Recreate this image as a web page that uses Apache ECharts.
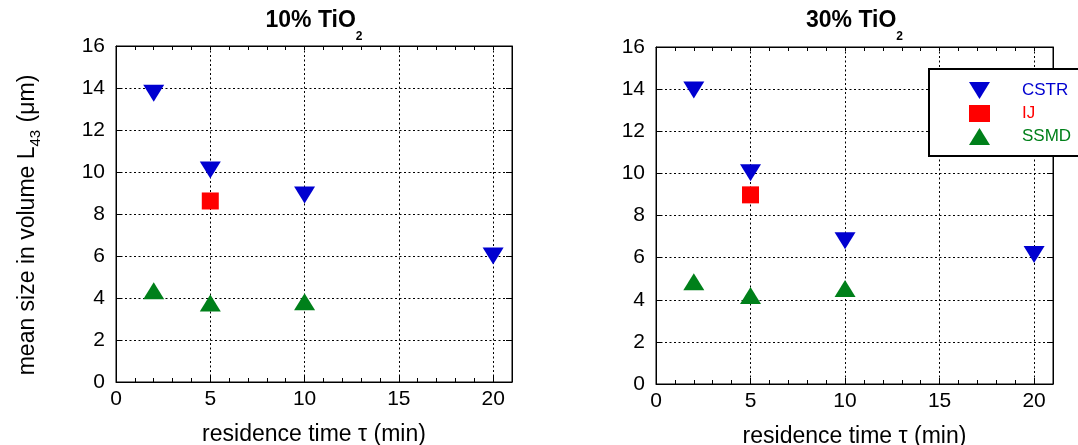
<!DOCTYPE html>
<html>
<head>
<meta charset="utf-8">
<script src="https://cdn.jsdelivr.net/npm/echarts@6/dist/echarts.min.js"></script>
<style>
html, body { margin: 0; padding: 0; background: #fff; }
#main { width: 1078px; height: 445px; }
</style>
</head>
<body>
<div id="main"></div>
<script>
// residence time tau (min)
var cstrTime = [2, 5, 10, 20];
var ijTime = [5];
var ssmdTime = [2, 5, 10];

// 10% TiO2, mean size L43 (um)
var cstr10 = [13.75, 10.1, 8.9, 6.0];
var ij10 = [8.62];
var ssmd10 = [4.35, 3.76, 3.82];

// 30% TiO2
var cstr30 = [13.96, 10.03, 6.8, 6.15];
var ij30 = [8.98];
var ssmd30 = [4.85, 4.2, 4.53];

// axes
var xMax = 21, xStep = 5, yMax = 16, yStep = 2;
var panelTitles = ['10% TiO', '30% TiO'];

var FONT = "'Liberation Sans', Arial, sans-serif";
var BLUE = '#0000d0', RED = '#ff0000', GREEN = '#00801a';
var downTri = 'path://M0,0L20,0L10,16Z';
var DASH = [2, 2.5];

function pts(xs, ys) {
  return xs.map(function (x, i) { return [x, ys[i]]; });
}

var gridBoxes = [
  { left: 116, top: 46, width: 396, height: 336 },
  { left: 656, top: 47, width: 397, height: 337 }
];

var xAxes = [], yAxes = [], series = [], titles = [];
gridBoxes.forEach(function (g, gi) {
  // main bottom axis
  xAxes.push({
    gridIndex: gi, type: 'value', min: 0, max: xMax, interval: xStep, position: 'bottom',
    axisLine: { show: true, onZero: false, lineStyle: { color: '#000', width: 1 } },
    axisTick: { show: true, inside: true, length: 6, lineStyle: { color: '#000' } },
    axisLabel: {
      color: '#000', fontSize: 21, fontFamily: FONT, margin: 7,
      formatter: function (v) { return v % xStep === 0 ? String(v) : ''; }
    },
    splitLine: { show: true, lineStyle: { color: '#000', width: 1, type: DASH } },
    name: 'residence time τ (min)', nameLocation: 'middle', nameGap: 41,
    nameTextStyle: { color: '#000', fontSize: 23, fontFamily: FONT }
  });
  // minor ticks bottom
  xAxes.push({
    gridIndex: gi, type: 'value', min: 0, max: xMax, interval: 1, position: 'bottom',
    axisLine: { show: false, onZero: false },
    axisTick: { show: true, inside: true, length: 4, lineStyle: { color: '#000' } },
    axisLabel: { show: false }, splitLine: { show: false }
  });
  // ticks top
  xAxes.push({
    gridIndex: gi, type: 'value', min: 0, max: xMax, interval: 1, position: 'top',
    axisLine: { show: true, onZero: false, lineStyle: { color: '#000' } },
    axisTick: { show: true, inside: true, length: 4, lineStyle: { color: '#000' } },
    axisLabel: { show: false }, splitLine: { show: false }
  });
  var yl = {
    gridIndex: gi, type: 'value', min: 0, max: yMax, interval: yStep, position: 'left',
    axisLine: { show: true, onZero: false, lineStyle: { color: '#000' } },
    axisTick: { show: true, inside: true, length: 6, lineStyle: { color: '#000' } },
    axisLabel: { color: '#000', fontSize: 21, fontFamily: FONT, margin: 11 },
    splitLine: { show: true, lineStyle: { color: '#000', width: 1, type: DASH } }
  };
  if (gi === 0) {
    yl.name = '{a|mean size in volume L}{s|43}{a| (μm)}';
    yl.nameLocation = 'middle';
    yl.nameGap = 74;
    yl.nameTextStyle = {
      color: '#000', fontFamily: FONT, padding: [0, 22, 0, 0],
      rich: {
        a: { fontSize: 23, fontFamily: FONT, color: '#000', lineHeight: 26, verticalAlign: 'top' },
        s: { fontSize: 15, fontFamily: FONT, color: '#000', lineHeight: 17, verticalAlign: 'top', padding: [12, 1, 0, 0] }
      }
    };
  }
  yAxes.push(yl);
  yAxes.push({
    gridIndex: gi, type: 'value', min: 0, max: yMax, interval: yStep, position: 'right',
    axisLine: { show: true, onZero: false, lineStyle: { color: '#000' } },
    axisTick: { show: true, inside: true, length: 6, lineStyle: { color: '#000' } },
    axisLabel: { show: false }, splitLine: { show: false }
  });
  titles.push({
    text: '{a|' + panelTitles[gi] + '}{b|2}',
    left: g.left + g.width / 2, textAlign: 'center', top: 9, padding: 0,
    textStyle: {
      rich: {
        a: { fontSize: 23, fontWeight: 'bold', fontFamily: FONT, color: '#000', lineHeight: 26, verticalAlign: 'top' },
        b: { fontSize: 12, fontWeight: 'bold', fontFamily: FONT, color: '#000', lineHeight: 13, verticalAlign: 'top', padding: [22, 0, 0, 0] }
      }
    }
  });
});

var sets = [[cstr10, ij10, ssmd10], [cstr30, ij30, ssmd30]];
sets.forEach(function (s, gi) {
  series.push({
    name: 'CSTR', type: 'scatter', xAxisIndex: gi * 3, yAxisIndex: gi * 2,
    symbol: downTri, symbolSize: [21, 17], itemStyle: { color: BLUE, opacity: 1 },
    data: pts(cstrTime, s[0])
  });
  series.push({
    name: 'IJ', type: 'scatter', xAxisIndex: gi * 3, yAxisIndex: gi * 2,
    symbol: 'rect', symbolSize: 17, symbolKeepAspect: true, itemStyle: { color: RED, opacity: 1 },
    data: pts(ijTime, s[1])
  });
  series.push({
    name: 'SSMD', type: 'scatter', xAxisIndex: gi * 3, yAxisIndex: gi * 2,
    symbol: 'triangle', symbolSize: [21, 17], itemStyle: { color: GREEN, opacity: 1 },
    data: pts(ssmdTime, s[2])
  });
});

var chart = echarts.init(document.getElementById('main'), null, { renderer: 'canvas' });
chart.setOption({
  backgroundColor: '#fff',
  animation: false,
  title: titles,
  // legend frame runs past the right edge, as in the source figure
  graphic: [{
    type: 'rect', left: 928, top: 68, z: 1,
    shape: { width: 200, height: 87 },
    style: { fill: '#fff', stroke: '#000', lineWidth: 2 }
  }],
  legend: {
    orient: 'vertical', left: 929, top: 69, z: 5,
    padding: [13, 60, 10, 40], itemGap: 6, itemWidth: 21, itemHeight: 17,
    textStyle: { fontSize: 17, fontFamily: FONT, padding: [0, 0, 0, 27] },
    data: [
      { name: 'CSTR', textStyle: { color: BLUE } },
      { name: 'IJ', textStyle: { color: RED } },
      { name: 'SSMD', textStyle: { color: GREEN } }
    ]
  },
  grid: gridBoxes.map(function (g) {
    return { left: g.left, top: g.top, width: g.width, height: g.height,
      show: true, borderColor: '#000', borderWidth: 1,
      containLabel: false, outerBoundsMode: 'none' };
  }),
  xAxis: xAxes,
  yAxis: yAxes,
  series: series
});
</script>
</body>
</html>
